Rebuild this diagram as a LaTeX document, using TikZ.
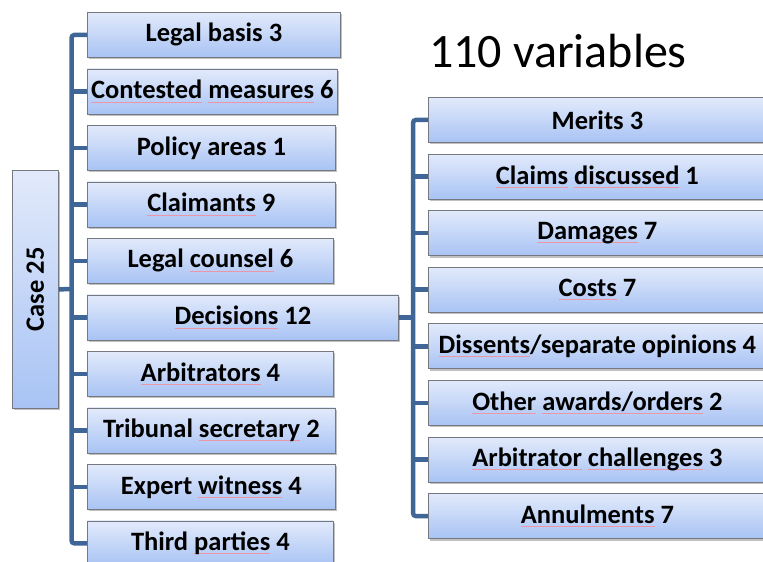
\documentclass[tikz,border=0pt]{standalone}
\usepackage{fontspec}
\usepackage{graphicx}
\setmainfont{Carlito}
\usetikzlibrary{shadows,backgrounds}
\definecolor{trunk}{RGB}{64,102,152}
\definecolor{boxtop}{RGB}{226,234,251}
\definecolor{boxbot}{RGB}{168,195,244}
\definecolor{boxline}{RGB}{118,120,128}
\definecolor{sqcol}{RGB}{236,150,168}
\newcommand\spw[1]{{\setbox0\hbox{#1}\rlap{\color{sqcol}\rule[-3.5pt]{\wd0}{0.7pt}}\box0}}
\begin{document}
\begin{tikzpicture}[x=1pt,y=-1pt,
  catbox/.style={draw=boxline, line width=0.8pt, top color=boxtop, bottom color=boxbot,
    drop shadow={shadow xshift=2pt, shadow yshift=-2pt, opacity=0.35, fill=black!70},
    anchor=north west, inner sep=0pt, minimum height=45pt,
    font=\fontsize{26.5}{30}\selectfont\bfseries, text=black},
  link/.style={draw=trunk, line width=4.5pt, rounded corners=3pt}]
\useasboundingbox (0,0) rectangle (763,562);
\clip (0,0) rectangle (763,562);
% title
\node[anchor=base west, inner sep=0pt, font=\fontsize{48}{52}\selectfont] (title) at (429,67) {110 variables};
% root
\node[catbox, minimum width=46pt, minimum height=238pt] (case) at (12,170) {\rotatebox{90}{Case 25}};
% left column
\node[catbox, minimum width=253pt] (lb) at (87,12)    {Legal basis 3};
\node[catbox, minimum width=250pt] (cm) at (87,68.5)  {\spw{Contested} \spw{measures} 6};
\node[catbox, minimum width=248pt] (pa) at (87,125)   {Policy areas 1};
\node[catbox, minimum width=248pt] (cl) at (87,181.5) {\spw{Claimants} 9};
\node[catbox, minimum width=246pt] (lc) at (87,238)   {Legal \spw{counsel} 6};
\node[catbox, minimum width=311pt] (de) at (87,294.5) {\spw{Decisions} 12};
\node[catbox, minimum width=246pt] (ar) at (87,351)   {\spw{Arbitrators} 4};
\node[catbox, minimum width=248pt] (ts) at (87,407.5) {Tribunal \spw{secretary} 2};
\node[catbox, minimum width=248pt] (ew) at (87,464)   {Expert \spw{witness} 4};
\node[catbox, minimum width=246pt] (tp) at (87,520.5) {Third \spw{parties} 4};
% right column
\node[catbox, minimum width=338pt] (me) at (428,97)    {Merits 3};
\node[catbox, minimum width=338pt] (cd) at (428,153.6) {\spw{Claims} \spw{discussed} 1};
\node[catbox, minimum width=338pt] (da) at (428,210.2) {\spw{Damages} 7};
\node[catbox, minimum width=338pt] (co) at (428,266.8) {\spw{Costs} 7};
\node[catbox, minimum width=338pt] (ds) at (428,323.4) {\spw{Dissents}/separate opinions 4};
\node[catbox, minimum width=338pt] (oa) at (428,380)   {\spw{Other} \spw{awards/orders} 2};
\node[catbox, minimum width=338pt] (ac) at (428,436.6) {\spw{Arbitrator} \spw{challenges} 3};
\node[catbox, minimum width=338pt] (an) at (428,493.2) {\spw{Annulments} 7};
% trunk positions
\coordinate (lt) at (71.5,289);
\coordinate (rt) at (413,317);
\begin{pgfonlayer}{background}
\draw[link] (lb.west) -- (lt |- lb.west) -- (lt |- tp.west) -- (tp.west);
\draw[link] (case.east) -- (lt);
\foreach \n in {cm,pa,cl,lc,de,ar,ts,ew}{\draw[link] (\n.west) -- (lt |- \n.west);}
\draw[link] (me.west) -- (rt |- me.west) -- (rt |- an.west) -- (an.west);
\draw[link] (de.east) -- (rt |- de.east);
\foreach \n in {cd,da,co,ds,oa,ac}{\draw[link] (\n.west) -- (rt |- \n.west);}
\end{pgfonlayer}
\end{tikzpicture}
\end{document}
